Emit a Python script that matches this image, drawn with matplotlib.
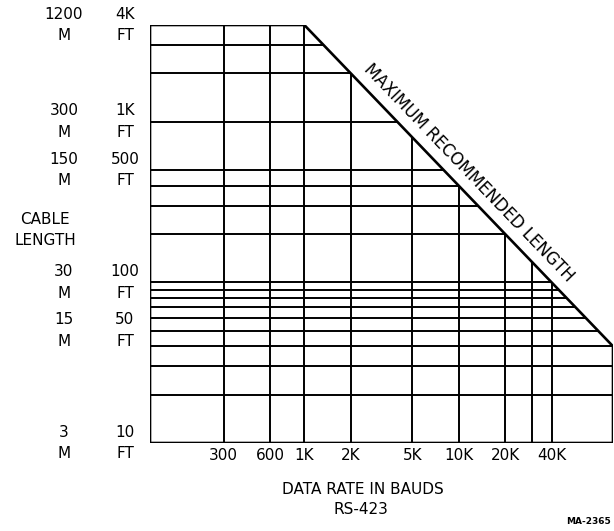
import numpy as np
import matplotlib
matplotlib.use("Agg")
import matplotlib.pyplot as plt
from matplotlib.patches import Polygon

# chart data (RS-423 cable length vs data rate)
grid_rates = [300, 600, 1000, 2000, 5000, 10000, 20000, 30000, 40000]
rate_ticks = [300, 600, 1000, 2000, 5000, 10000, 20000, 40000]
rate_labels = ["300", "600", "1K", "2K", "5K", "10K", "20K", "40K"]
grid_lengths = [20, 30, 40, 50, 60, 70, 80, 90, 100, 200, 300, 400, 500, 1000, 2000, 3000]
length_ticks = [4000, 1000, 500, 100, 50, 10]
feet_labels = ["4K", "1K", "500", "100", "50", "10"]
meter_labels = ["1200", "300", "150", "30", "15", "3"]
# max recommended length boundary
limit_rate = [100, 1000, 100000, 100000]
limit_length = [4000, 4000, 40, 10]

W, H = 614, 531
fig = plt.figure(figsize=(W / 100, H / 100), dpi=100)
ax = fig.add_axes([150 / W, 1 - 443 / H, 463 / W, 418 / H])
ax.set_xscale("log")
ax.set_yscale("log")
ax.set_xlim(100, 100000)
ax.set_ylim(10, 4000)
ax.axis("off")

# outline of the usable region
verts = [(100, 10)] + list(zip(limit_rate, limit_length))
poly = Polygon(verts, closed=True, fill=False, edgecolor="black", lw=1.9, zorder=3)
ax.add_patch(poly)

for r in grid_rates:
    ln = ax.axvline(r, color="black", lw=1.4)
    ln.set_clip_path(poly)
for l in grid_lengths:
    ln = ax.axhline(l, color="black", lw=1.4)
    ln.set_clip_path(poly)

fs = 11
# x tick labels
for r, lab in zip(rate_ticks, rate_labels):
    ax.text(r, -0.029, lab, transform=ax.get_xaxis_transform(), ha="center",
            va="center", fontsize=fs)

# y tick labels (meters and feet columns)
for l, m, f in zip(length_ticks, meter_labels, feet_labels):
    ax.text(-0.186, l, m + "\nM", transform=ax.get_yaxis_transform(), ha="center",
            va="center", fontsize=fs, linespacing=1.55)
    ax.text(-0.054, l, f + "\nFT", transform=ax.get_yaxis_transform(), ha="center",
            va="center", fontsize=fs, linespacing=1.55)

fig.text(45 / W, 1 - 230 / H, "CABLE\nLENGTH", ha="center", va="center",
         fontsize=fs, linespacing=1.5)
fig.text(363 / W, 1 - 490 / H, "DATA RATE IN BAUDS", ha="center", va="center", fontsize=fs)
fig.text(361 / W, 1 - 509 / H, "RS-423", ha="center", va="center", fontsize=fs)
fig.text(566 / W, 1 - 522 / H, "MA-2365", ha="left", va="center", fontsize=6.5,
         fontweight="bold")

# diagonal label, angle taken from the boundary line in display space
p0 = ax.transData.transform((limit_rate[1], limit_length[1]))
p1 = ax.transData.transform((limit_rate[2], limit_length[2]))
angle = np.degrees(np.arctan2(p1[1] - p0[1], p1[0] - p0[0]))
mid_rate = np.sqrt(limit_rate[1] * limit_rate[2])
mid_len = np.sqrt(limit_length[1] * limit_length[2])
ax.annotate("MAXIMUM RECOMMENDED LENGTH", xy=(mid_rate, mid_len), xytext=(7, 9),
            textcoords="offset points", rotation=angle, rotation_mode="anchor",
            ha="center", va="center", fontsize=12, annotation_clip=False)

fig.savefig("out.png", dpi=100)
